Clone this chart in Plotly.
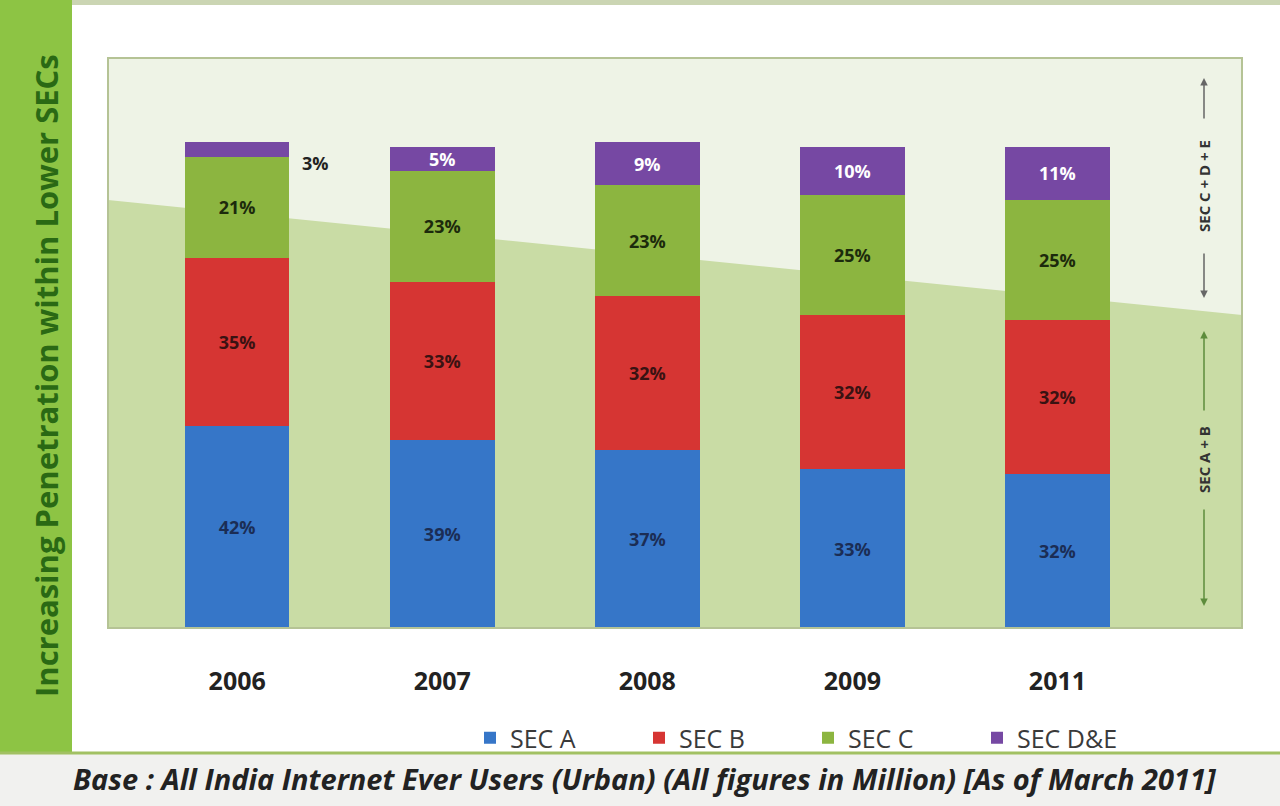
import plotly.graph_objects as go

years = ["2006", "2007", "2008", "2009", "2011"]
sec_a = [42, 39, 37, 33, 32]
sec_b = [35, 33, 32, 32, 32]
sec_c = [21, 23, 23, 25, 25]
sec_de = [3, 5, 9, 10, 11]

series = [
    ("SEC A", sec_a, "#3676c8", "#1b2d55"),
    ("SEC B", sec_b, "#d63533", "#3a1212"),
    ("SEC C", sec_c, "#8cb540", "#1c2a0c"),
    ("SEC D&E", sec_de, "#7648a3", "#ffffff"),
]

W, H = 1280, 806
L, R, T, B = 108, 1242, 58, 628


def px(x):
    return (x - L) / (R - L)


def py(y):
    return (B - y) / (B - T)


fig = go.Figure()

for name, vals, color, tcolor in series:
    labels = [f"{v}%" for v in vals]
    if name == "SEC D&E":
        labels[0] = ""  # 2006 label sits outside the bar
    fig.add_trace(
        go.Bar(
            x=years,
            y=vals,
            name=name,
            marker=dict(color=color, line=dict(width=0)),
            text=labels,
            textposition="inside",
            insidetextanchor="middle",
            constraintext="none",
            textangle=0,
            textfont=dict(family="Open Sans", size=18, color=tcolor, weight="bold"),
            hoverinfo="skip",
        )
    )

shapes = [
    # plot background: light top, green lower wedge
    dict(type="rect", xref="paper", yref="paper", x0=0, x1=1, y0=0, y1=1,
         fillcolor="#eef3e6", line=dict(width=0), layer="below"),
    dict(type="path", xref="paper", yref="paper",
         path=f"M 0,{py(200)} L 1,{py(315)} L 1,0 L 0,0 Z",
         fillcolor="#c9dca5", line=dict(width=0), layer="below"),
    dict(type="rect", xref="paper", yref="paper", x0=0, x1=1, y0=0, y1=1,
         fillcolor="rgba(0,0,0,0)", line=dict(color="#b5c395", width=2)),
    # left green band
    dict(type="rect", xref="paper", yref="paper", x0=px(0), x1=px(72),
         y0=py(752), y1=py(0), fillcolor="#8dc444", line=dict(width=0), layer="below"),
    # top strip
    dict(type="rect", xref="paper", yref="paper", x0=px(72), x1=px(W),
         y0=py(5), y1=py(0), fillcolor="#cbd5b3", line=dict(width=0), layer="below"),
    # footer band and line
    dict(type="rect", xref="paper", yref="paper", x0=px(0), x1=px(W),
         y0=py(H), y1=py(754), fillcolor="#f1f1ef", line=dict(width=0), layer="below"),
    dict(type="line", xref="paper", yref="paper", x0=px(0), x1=px(W),
         y0=py(753), y1=py(753), line=dict(color="#a2c163", width=3), layer="below"),
]

annotations = [
    dict(text="Increasing Penetration within Lower SECs", xref="paper", yref="paper",
         x=px(46), y=py(376), xanchor="center", yanchor="middle",
         textangle=-90, showarrow=False,
         font=dict(family="Open Sans", size=31, color="#2a6914", weight="bold")),
    dict(text="Base : All India Internet Ever Users (Urban) (All figures in Million) "
              "[As of March 2011]", xref="paper", yref="paper",
         x=px(645), y=py(778), xanchor="center", yanchor="middle", showarrow=False,
         font=dict(family="Open Sans", size=29, color="#222222", weight="bold",
                   style="italic")),
    dict(text=f"{sec_de[0]}%", x=0, y=sum(v[0] for _, v, _, _ in series),
         xshift=78, yshift=-21, showarrow=False,
         font=dict(family="Open Sans", size=18, color="#222222", weight="bold")),
    dict(text="SEC C + D + E", xref="paper", yref="paper", x=px(1204), y=py(186),
         xanchor="center", yanchor="middle", textangle=-90, showarrow=False,
         font=dict(family="Open Sans", size=15, color="#333333", weight="bold")),
    dict(text="SEC A + B", xref="paper", yref="paper", x=px(1204), y=py(460),
         xanchor="center", yanchor="middle", textangle=-90, showarrow=False,
         font=dict(family="Open Sans", size=15, color="#333333", weight="bold")),
]

# arrows beside the right-hand labels
for head, tail, col in [(78, 120, "#666666"), (298, 252, "#666666"),
                        (331, 412, "#5d8c3c"), (606, 508, "#5d8c3c")]:
    annotations.append(dict(
        text="", xref="paper", yref="paper", x=px(1204), y=py(head),
        ax=0, ay=tail - head, showarrow=True, arrowhead=2, arrowsize=1,
        arrowwidth=1.5, arrowcolor=col))

fig.update_layout(
    width=W,
    height=H,
    barmode="stack",
    bargap=0.49,
    margin=dict(l=L, r=W - R, t=T, b=H - B),
    paper_bgcolor="#ffffff",
    plot_bgcolor="rgba(0,0,0,0)",
    font=dict(family="Open Sans", color="#222222"),
    showlegend=True,
    legend=dict(
        orientation="h", x=px(470), y=py(738), xanchor="left", yanchor="middle",
        font=dict(family="Open Sans", size=25, color="#3a3a3a"),
        bgcolor="rgba(0,0,0,0)", entrywidth=124, entrywidthmode="pixels",
        traceorder="normal",
    ),
    xaxis=dict(
        type="category", range=[-0.63, 4.9], showgrid=False, zeroline=False,
        showline=False,
        tickfont=dict(family="Open Sans", size=25, color="#222222", weight="bold"),
        ticklabelstandoff=36,
    ),
    yaxis=dict(range=[0, 118.5], visible=False, showgrid=False, zeroline=False),
    shapes=shapes,
    annotations=annotations,
)

fig.write_html("out.html", config={"displayModeBar": False},
               post_script="document.body.style.margin = '0';")
